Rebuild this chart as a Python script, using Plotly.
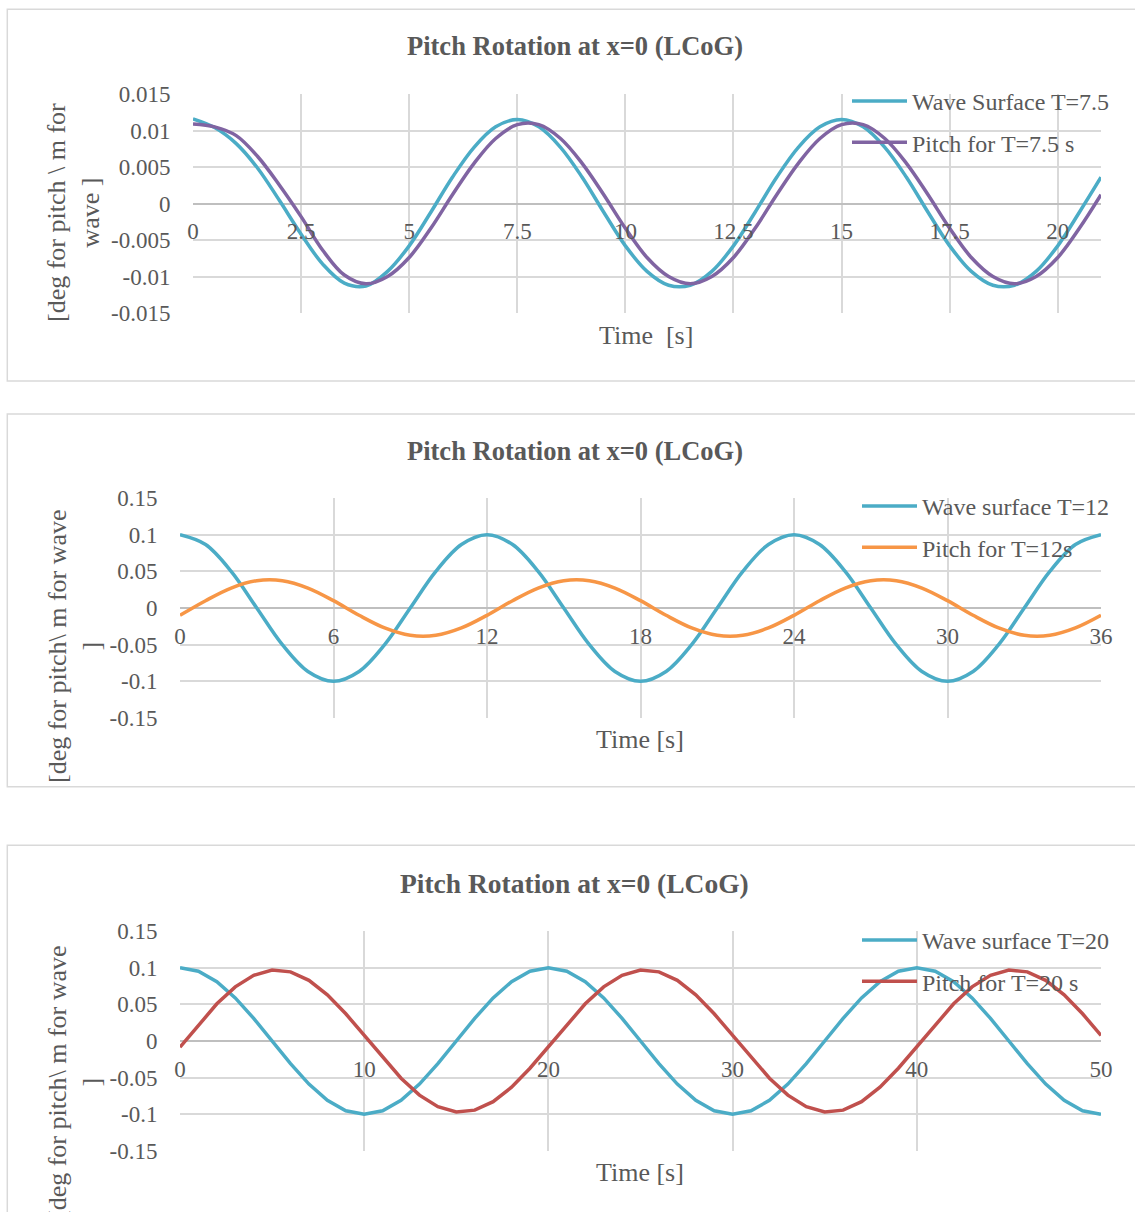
import plotly.graph_objects as go

W, H = 1135, 1212

# ---------------- data ----------------
# Panel 1 (T = 7.5 s), samples every 0.5 s
t1 = [0, 0.5, 1, 1.5, 2, 2.5, 3, 3.5, 4, 4.5, 5, 5.5, 6, 6.5, 7, 7.5, 8, 8.5, 9, 9.5,
      10, 10.5, 11, 11.5, 12, 12.5, 13, 13.5, 14, 14.5, 15, 15.5, 16, 16.5, 17, 17.5,
      18, 18.5, 19, 19.5, 20, 20.5, 21]
wave1 = [0.0116, 0.0104, 0.0082, 0.0048, 0.0004, -0.0042, -0.0083, -0.0109, -0.0113, -0.0093,
         -0.0058, -0.0012, 0.0036, 0.0077, 0.0105, 0.0115, 0.0105, 0.0077, 0.0036, -0.0012,
         -0.0058, -0.0093, -0.0112, -0.0112, -0.0093, -0.0058, -0.0012, 0.0036, 0.0077, 0.0105,
         0.0115, 0.0105, 0.0077, 0.0036, -0.0012, -0.0058, -0.0093, -0.0112, -0.0112, -0.0093,
         -0.0058, -0.0012, 0.0036]
pitch1 = [0.0109, 0.0105, 0.0093, 0.0064, 0.0025, -0.0018, -0.0064, -0.0098, -0.0110, -0.0100,
          -0.0074, -0.0034, 0.0012, 0.0055, 0.0089, 0.0108, 0.0108, 0.0089, 0.0055, 0.0012,
          -0.0034, -0.0074, -0.0100, -0.0110, -0.0100, -0.0074, -0.0034, 0.0012, 0.0055, 0.0089,
          0.0108, 0.0108, 0.0089, 0.0055, 0.0012, -0.0034, -0.0074, -0.0100, -0.0110, -0.0100,
          -0.0074, -0.0034, 0.0012]

# Panel 2 (T = 12 s), samples every 1 s
t2 = list(range(0, 37))
wave2 = [0.1, 0.0866, 0.05, 0.0, -0.05, -0.0866, -0.1, -0.0866, -0.05, 0.0, 0.05, 0.0866,
         0.1, 0.0866, 0.05, 0.0, -0.05, -0.0866, -0.1, -0.0866, -0.05, 0.0, 0.05, 0.0866,
         0.1, 0.0866, 0.05, 0.0, -0.05, -0.0866, -0.1, -0.0866, -0.05, 0.0, 0.05, 0.0866, 0.1]
pitch2 = [-0.0100, 0.0100, 0.0272, 0.0372, 0.0372, 0.0272, 0.0100, -0.0100, -0.0272, -0.0372, -0.0372, -0.0272,
          -0.0100, 0.0100, 0.0272, 0.0372, 0.0372, 0.0272, 0.0100, -0.0100, -0.0272, -0.0372, -0.0372, -0.0272,
          -0.0100, 0.0100, 0.0272, 0.0372, 0.0372, 0.0272, 0.0100, -0.0100, -0.0272, -0.0372, -0.0372, -0.0272,
          -0.0100]

# Panel 3 (T = 20 s), samples every 1 s
t3 = list(range(0, 51))
wave3 = [0.1, 0.0951, 0.0809, 0.0588, 0.0309, 0.0, -0.0309, -0.0588, -0.0809, -0.0951,
         -0.1, -0.0951, -0.0809, -0.0588, -0.0309, 0.0, 0.0309, 0.0588, 0.0809, 0.0951,
         0.1, 0.0951, 0.0809, 0.0588, 0.0309, 0.0, -0.0309, -0.0588, -0.0809, -0.0951,
         -0.1, -0.0951, -0.0809, -0.0588, -0.0309, 0.0, 0.0309, 0.0588, 0.0809, 0.0951,
         0.1, 0.0951, 0.0809, 0.0588, 0.0309, 0.0, -0.0309, -0.0588, -0.0809, -0.0951, -0.1]
pitch3 = [-0.0085, 0.0215, 0.0507, 0.0738, 0.0896, 0.0967, 0.0943, 0.0827, 0.0630, 0.0371,
          0.0076, -0.0226, -0.0507, -0.0738, -0.0896, -0.0967, -0.0943, -0.0827, -0.0630, -0.0371,
          -0.0076, 0.0226, 0.0507, 0.0738, 0.0896, 0.0967, 0.0943, 0.0827, 0.0630, 0.0371,
          0.0076, -0.0226, -0.0507, -0.0738, -0.0896, -0.0967, -0.0943, -0.0827, -0.0630, -0.0371,
          -0.0076, 0.0226, 0.0507, 0.0738, 0.0896, 0.0967, 0.0943, 0.0827, 0.0630, 0.0371, 0.0076]

# tick labels
xt1 = [0, 2.5, 5, 7.5, 10, 12.5, 15, 17.5, 20]
xt1_text = ["0", "2.5", "5", "7.5", "10", "12.5", "15", "17.5", "20"]
yt1 = [-0.015, -0.01, -0.005, 0, 0.005, 0.01, 0.015]
yt1_text = ["-0.015", "-0.01", "-0.005", "0", "0.005", "0.01", "0.015"]
xt2 = [0, 6, 12, 18, 24, 30, 36]
xt2_text = ["0", "6", "12", "18", "24", "30", "36"]
xt3 = [0, 10, 20, 30, 40, 50]
xt3_text = ["0", "10", "20", "30", "40", "50"]
yt23 = [-0.15, -0.1, -0.05, 0, 0.05, 0.1, 0.15]
yt23_text = ["-0.15", "-0.1", "-0.05", "0", "0.05", "0.1", "0.15"]

title_text = "Pitch Rotation at x=0 (LCoG)"
names1 = ["Wave Surface T=7.5", "Pitch for T=7.5 s"]
names2 = ["Wave surface T=12", "Pitch for T=12s"]
names3 = ["Wave surface T=20", "Pitch for T=20 s"]
ytitle1 = "[deg for pitch \\ m for<br>wave ]"
ytitle23 = "[deg for pitch\\ m for wave<br>]"
xtitle1 = "Time\u00a0 [s]"
xtitle23 = "Time [s]"

# ---------------- style ----------------
FONT = "Liberation Serif, Times New Roman, serif"
TXT = "#595959"
GRID = "#d9d9d9"
CYAN = "#4bacc6"
PURPLE = "#8064a2"
ORANGE = "#f79646"
RED = "#c0504d"
LW = 3.5


def px(x):
    return x / W


def py(y):
    return 1 - y / H


fig = go.Figure()

panels = [
    (t1, wave1, pitch1, names1, PURPLE, "spline", "x", "y", "legend"),
    (t2, wave2, pitch2, names2, ORANGE, "spline", "x2", "y2", "legend2"),
    (t3, wave3, pitch3, names3, RED, "linear", "x3", "y3", "legend3"),
]
for i, (t, wv, pt, nm, pc, shp, xa, ya, lg) in enumerate(panels):
    ln = dict(width=LW, shape=shp)
    if shp == "spline":
        ln["smoothing"] = 1.0
    fig.add_trace(go.Scatter(x=t, y=wv, mode="lines", name=nm[0], xaxis=xa, yaxis=ya,
                             line=dict(color=CYAN, **ln), legend=lg,
                             legendgroup=f"w{i}"))
    fig.add_trace(go.Scatter(x=t, y=pt, mode="lines", name=nm[1], xaxis=xa, yaxis=ya,
                             line=dict(color=pc, **ln), legend=lg,
                             legendgroup=f"p{i}"))

tickfont = dict(family=FONT, size=23, color=TXT)


def xax(dom, rng, tv, tt, zero_y):
    return dict(domain=dom, range=rng, tickvals=tv, ticktext=tt, anchor="free",
                position=zero_y, showgrid=True, gridcolor=GRID, gridwidth=1.5,
                zeroline=False, showline=False, ticks="outside", ticklen=7,
                tickcolor="rgba(0,0,0,0)", tickfont=tickfont, fixedrange=True,
                automargin=False)


def yax(dom, rng, tv, tt, anchor):
    return dict(domain=dom, range=rng, tickvals=tv, ticktext=tt, anchor=anchor,
                showgrid=True, gridcolor=GRID, gridwidth=1.5, zeroline=True,
                zerolinecolor="#bfbfbf", zerolinewidth=1.5, showline=False,
                ticks="outside", ticklen=17, tickcolor="rgba(0,0,0,0)",
                tickfont=tickfont, fixedrange=True, automargin=False)


# plot areas in pixels
p1 = dict(x0=193, x1=1101, y0=94, y1=313)
p2 = dict(x0=180, x1=1101, y0=498, y1=718)
p3 = dict(x0=180, x1=1101, y0=931, y1=1151)


def zero_pos(p):
    return py((p["y0"] + p["y1"]) / 2)


fig.update_layout(
    width=W, height=H,
    margin=dict(l=0, r=0, t=0, b=0, pad=0, autoexpand=False),
    paper_bgcolor="white", plot_bgcolor="white",
    font=dict(family=FONT, color=TXT),
    xaxis=xax([px(p1["x0"]), px(p1["x1"])], [0, 21], xt1, xt1_text, zero_pos(p1)),
    yaxis=yax([py(p1["y1"]), py(p1["y0"])], [-0.015, 0.015], yt1, yt1_text, "x"),
    xaxis2=xax([px(p2["x0"]), px(p2["x1"])], [0, 36], xt2, xt2_text, zero_pos(p2)),
    yaxis2=yax([py(p2["y1"]), py(p2["y0"])], [-0.15, 0.15], yt23, yt23_text, "x2"),
    xaxis3=xax([px(p3["x0"]), px(p3["x1"])], [0, 50], xt3, xt3_text, zero_pos(p3)),
    yaxis3=yax([py(p3["y1"]), py(p3["y0"])], [-0.15, 0.15], yt23, yt23_text, "x3"),
    showlegend=True,
)

legfont = dict(family=FONT, size=24, color=TXT)
for key, xl, ytop in [("legend", 847, 79), ("legend2", 857, 484), ("legend3", 857, 918)]:
    fig.update_layout({key: dict(x=px(xl), xanchor="left", y=py(ytop), yanchor="top",
                                 bgcolor="rgba(0,0,0,0)", borderwidth=0, font=legfont,
                                 traceorder="grouped", tracegroupgap=7, itemwidth=55)})

# panel borders
for top, bot in [(9.3, 381), (414, 786.7), (845.3, 1260)]:
    fig.add_shape(type="rect", xref="paper", yref="paper",
                  x0=px(7.3), x1=px(1150), y0=py(bot), y1=py(top),
                  line=dict(color=GRID, width=1.5), fillcolor="rgba(0,0,0,0)", layer="below")

# titles
for cx, cy, sz in [(574.5, 46, 26.5), (574.5, 451, 26.5), (574.5, 883, 27.5)]:
    fig.add_annotation(text=title_text, xref="paper", yref="paper", x=px(cx), y=py(cy),
                       xanchor="center", yanchor="middle", showarrow=False,
                       font=dict(family=FONT, size=sz, color=TXT, weight="bold"))

# axis titles
for txt, cx, cy in [(xtitle1, 646, 335), (xtitle23, 640, 740), (xtitle23, 640, 1172)]:
    fig.add_annotation(text=txt, xref="paper", yref="paper", x=px(cx), y=py(cy),
                       xanchor="center", yanchor="middle", showarrow=False,
                       font=dict(family=FONT, size=26, color=TXT))
for txt, cx, cy in [(ytitle1, 74, 213), (ytitle23, 74, 646), (ytitle23, 74, 1082)]:
    fig.add_annotation(text=txt, xref="paper", yref="paper", x=px(cx), y=py(cy),
                       xanchor="center", yanchor="middle", showarrow=False, textangle=-90,
                       font=dict(family=FONT, size=26, color=TXT))

fig.write_html("out.html", config={"displayModeBar": False},
               post_script="document.body.style.margin='0';document.body.style.overflow='hidden';")
